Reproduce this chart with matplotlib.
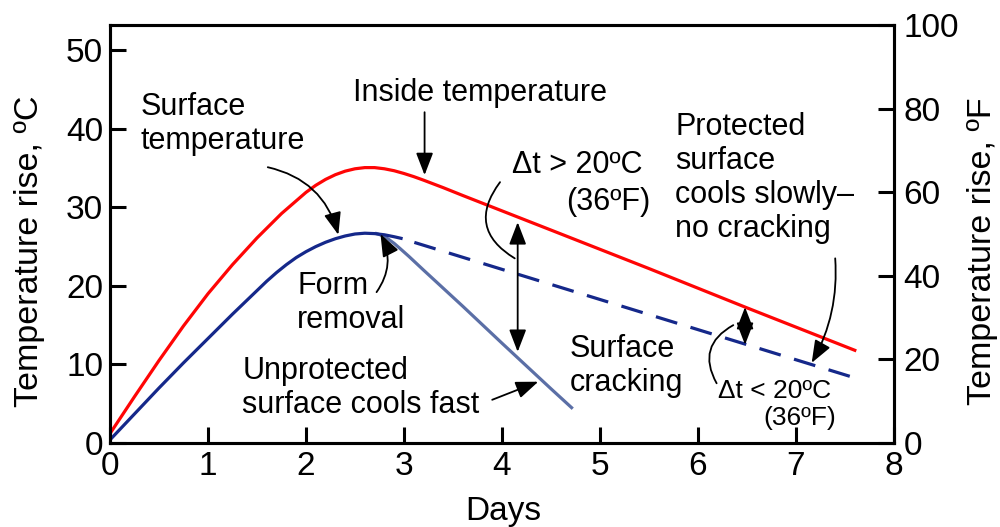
import matplotlib
matplotlib.use("Agg")
import matplotlib.pyplot as plt

plt.rcParams['font.family'] = ['Liberation Sans', 'DejaVu Sans']

# ---- data (days, temperature rise in degC) ----
days_inside = [0, 0.25, 0.5, 0.75, 1.0, 1.25, 1.5, 1.75, 2.0, 2.1, 2.2, 2.3, 2.4, 2.5, 2.6, 2.7,
               2.8, 2.9, 3.0, 3.1, 3.2, 3.4, 3.6, 4.5, 5.5, 6.5, 7.6]
temp_inside = [1.2, 5.9, 10.5, 14.9, 19.0, 22.7, 26.1, 29.2, 31.9, 32.8, 33.55, 34.15, 34.6, 34.9,
               35.05, 35.05, 34.9, 34.65, 34.3, 33.9, 33.45, 32.5, 31.5, 27.1, 22.2, 17.2, 11.8]

days_surface = [0, 0.25, 0.5, 0.75, 1.0, 1.25, 1.5, 1.6, 1.7, 1.8, 1.9, 2.0, 2.1, 2.2, 2.3, 2.4,
                2.5, 2.6, 2.7, 2.8, 2.9, 2.97]
temp_surface = [0.4, 3.7, 7.0, 10.2, 13.3, 16.4, 19.4, 20.6, 21.7, 22.7, 23.6, 24.35, 25.0, 25.55,
                26.0, 26.35, 26.6, 26.7, 26.65, 26.5, 26.25, 26.05]

days_unprot = [2.72, 2.78, 2.84, 2.9, 2.96, 3.05, 3.2, 3.4, 3.6, 3.8, 4.0, 4.25, 4.5, 4.71]
temp_unprot = [26.65, 26.4, 25.95, 25.4, 24.75, 23.75, 22.0, 19.7, 17.4, 15.05, 12.7, 9.8, 6.9, 4.5]

days_prot = [2.97, 7.65]
temp_prot = [26.05, 8.1]

x_ticks = [0, 1, 2, 3, 4, 5, 6, 7, 8]
c_ticks = [0, 10, 20, 30, 40, 50]
f_ticks = [0, 20, 40, 60, 80, 100]

RED = '#ff0505'
NAVY = '#15288a'
STEEL = '#5b6fa6'

fig = plt.figure(figsize=(10, 5.27), dpi=100)
ax = fig.add_axes([0.110, 1 - 443 / 527, 0.784, 418 / 527])
ax2 = ax.twinx()

lw = 2.3
ax.plot(days_inside, temp_inside, color=RED, lw=lw, zorder=3)
ax.plot(days_unprot, temp_unprot, color=STEEL, lw=lw, zorder=3)
ax.plot(days_surface, temp_surface, color=NAVY, lw=lw, zorder=4)
dash, gap = 16.0, 10.0
ax.plot(days_prot, temp_prot, color=NAVY, lw=lw,
        linestyle=(dash / lw, (dash / lw, gap / lw)), zorder=4)

ax.set_xlim(0, 8)
ax.set_ylim(0, 53.2)
ax2.set_ylim(0, 100)
ax.set_xticks(x_ticks)
ax.set_yticks(c_ticks)
ax2.set_yticks(f_ticks)

for a in (ax, ax2):
    for s in a.spines.values():
        s.set_linewidth(2.2)
ax.tick_params(axis='both', direction='in', length=11.5, width=2.2, labelsize=24, pad=5)
ax.tick_params(axis='x', pad=6)
ax2.tick_params(axis='y', direction='in', length=11.5, width=2.2, labelsize=24, pad=7)

fig.text(0.030, 1 - 251 / 527, 'Temperature rise, ºC', rotation=90, ha='center', va='center', fontsize=24.5)
fig.text(0.982, 1 - 251 / 527, 'Temperature rise, ºF', rotation=90, ha='center', va='center', fontsize=24.5)
fig.text(0.503, 1 - 520 / 527, 'Days', ha='center', va='baseline', fontsize=24)

fs = 22
ls = 1.17
# multi-line texts: y is the baseline of the last line
ax.text(0.31, 37.4, 'Surface\ntemperature', fontsize=fs, ha='left', va='baseline', linespacing=ls)
ax.text(2.48, 43.5, 'Inside temperature', fontsize=fs, ha='left', va='baseline')
ax.text(4.10, 34.35, 'Δt > 20ºC', fontsize=fs, ha='left', va='baseline')
ax.text(5.51, 29.6, '(36ºF)', fontsize=fs, ha='right', va='baseline')
ax.text(5.77, 26.2, 'Protected\nsurface\ncools slowly–\nno cracking', fontsize=fs, ha='left',
        va='baseline', linespacing=ls)
ax.text(1.91, 14.6, 'Form\nremoval', fontsize=fs, ha='left', va='baseline', linespacing=ls)
ax.text(1.35, 3.8, 'Unprotected\nsurface cools fast', fontsize=fs, ha='left', va='baseline',
        linespacing=ls)
ax.text(4.69, 6.6, 'Surface\ncracking', fontsize=fs, ha='left', va='baseline', linespacing=ls)
ax.text(6.20, 5.7, 'Δt < 20ºC', fontsize=19, ha='left', va='baseline')
ax.text(6.67, 2.3, '(36ºF)', fontsize=19, ha='left', va='baseline')

head = '-|>,head_length=0.65,head_width=0.25'
dhead = '<|-|>,head_length=0.65,head_width=0.25'


def arrow(xy_to, xy_from, style=head, rad=0.0):
    ax.annotate('', xy=xy_to, xytext=xy_from,
                arrowprops=dict(arrowstyle=style, color='k', lw=1.3, mutation_scale=21,
                                shrinkA=0, shrinkB=0,
                                connectionstyle='arc3,rad=%g' % rad), zorder=5)


arrow((2.33, 26.5), (1.61, 35.1), rad=-0.3)
arrow((3.21, 34.1), (3.21, 42.1))
arrow((2.76, 26.6), (2.72, 19.2), rad=0.3)
arrow((4.16, 11.6), (4.16, 28.1), style=dhead)
arrow((4.13, 23.5), (3.98, 33.2), style='-', rad=0.55)
arrow((4.37, 7.8), (3.90, 5.5))
arrow((6.48, 12.5), (6.48, 17.3), style=dhead)
arrow((6.19, 7.6), (6.36, 15.0), style='-', rad=0.5)
arrow((7.16, 10.2), (7.40, 23.5), rad=-0.15)

fig.savefig('out.png', dpi=100)
